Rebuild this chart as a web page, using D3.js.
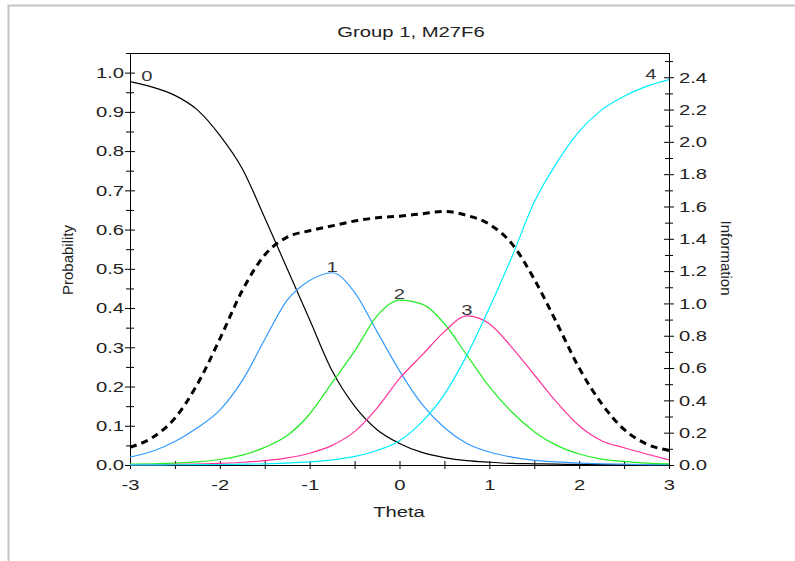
<!DOCTYPE html>
<html><head><meta charset="utf-8">
<script src="https://cdn.jsdelivr.net/npm/d3@7"></script>
<style>
html,body{margin:0;padding:0;background:#fff;}
svg{display:block;font-family:"Liberation Sans",Arial,sans-serif;}
</style></head><body>
<svg id="chart" width="795" height="561"></svg>
<script>
// ---- data ----
const theta = [-3,-2.75,-2.5,-2.25,-2,-1.75,-1.5,-1.25,-1,-0.75,-0.5,-0.25,0,0.25,0.5,0.75,1,1.25,1.5,1.75,2,2.25,2.5,2.75,3];
const cat0 = [0.977,0.963,0.942,0.905,0.84,0.755,0.63,0.5,0.37,0.24,0.15,0.09,0.055,0.032,0.019,0.011,0.007,0.004,0.003,0.002,0.0015,0.001,0.0006,0.0004,0.0003];
const cat1 = [0.02,0.035,0.06,0.095,0.14,0.215,0.32,0.42,0.47,0.49,0.44,0.34,0.24,0.155,0.095,0.055,0.033,0.02,0.012,0.008,0.005,0.003,0.002,0.0012,0.0008];
const cat2 = [0.002,0.003,0.005,0.008,0.014,0.025,0.045,0.075,0.13,0.21,0.29,0.38,0.42,0.41,0.36,0.28,0.2,0.135,0.085,0.05,0.028,0.015,0.009,0.005,0.003];
const cat3 = [0.0005,0.001,0.0015,0.0025,0.004,0.007,0.011,0.018,0.03,0.05,0.085,0.145,0.22,0.28,0.34,0.38,0.36,0.3,0.23,0.16,0.1,0.062,0.044,0.028,0.013];
const cat4 = [0.0003,0.0004,0.0006,0.0009,0.0013,0.002,0.003,0.005,0.008,0.013,0.022,0.037,0.062,0.11,0.18,0.28,0.4,0.53,0.67,0.77,0.85,0.905,0.94,0.965,0.982];
const information = [0.11,0.17,0.29,0.5,0.78,1.08,1.3,1.41,1.45,1.48,1.51,1.53,1.54,1.555,1.57,1.545,1.49,1.37,1.15,0.88,0.6,0.38,0.22,0.13,0.09];
const categoryLabels = ["0","1","2","3","4"];
const categoryColors = ["#000000","#3399ff","#22ee22","#ff3399","#00eeff"];
const xTicks = [-3,-2,-1,0,1,2,3];
const xMinor = [-2.5,-1.5,-0.5,0.5,1.5,2.5];
const probTicks = [0,0.1,0.2,0.3,0.4,0.5,0.6,0.7,0.8,0.9,1.0];
const probMinor = [0.05,0.15,0.25,0.35,0.45,0.55,0.65,0.75,0.85,0.95,1.05];
const infoTicks = [0,0.2,0.4,0.6,0.8,1.0,1.2,1.4,1.6,1.8,2.0,2.2,2.4];
const infoMinor = [0.1,0.3,0.5,0.7,0.9,1.1,1.3,1.5,1.7,1.9,2.1,2.3,2.5];
const titleText = "Group 1, M27F6";

// ---- layout ----
const m = {left:130,right:669,top:53,bottom:465};
const SX = 1.35;
const FONT = '"Liberation Sans", Arial, sans-serif';
const svg = d3.select("#chart");

const x = d3.scaleLinear().domain([-3,3]).range([m.left,m.right]);
const yL = d3.scaleLinear().domain([0,1.05]).range([m.bottom,m.top]);
const yR = d3.scaleLinear().domain([0,2.55]).range([m.bottom,m.top]);

// outer window border
svg.append("path").attr("d","M8.5,561 V5.5 H795")
  .attr("fill","none").attr("stroke","#c4c4c4").attr("stroke-width",2);

function styleTicks(g){
  g.attr("font-family",FONT).attr("font-size",15);
  g.select(".domain").remove();
  g.selectAll(".tick line").attr("stroke","#000");
}

// left axis
const gL = svg.append("g").attr("transform",`translate(${m.left},0)`)
  .call(d3.axisLeft(yL).tickValues(probTicks).tickSize(5).tickSizeOuter(0).tickFormat(d3.format(".1f")));
styleTicks(gL);
gL.selectAll(".tick line").attr("x1",5);
gL.selectAll(".tick text").attr("x",-6/SX).attr("transform",`scale(${SX},1)`).attr("fill","#222");
const gLm = svg.append("g").attr("transform",`translate(${m.left},0)`)
  .call(d3.axisLeft(yL).tickValues(probMinor).tickSize(4).tickSizeOuter(0).tickFormat(""));
styleTicks(gLm);
gLm.selectAll(".tick line").attr("x1",4);

// right axis
const gR = svg.append("g").attr("transform",`translate(${m.right},0)`)
  .call(d3.axisRight(yR).tickValues(infoTicks).tickSize(5).tickSizeOuter(0).tickFormat(d3.format(".1f")));
styleTicks(gR);
gR.selectAll(".tick line").attr("x1",-5);
gR.selectAll(".tick text").attr("x",10/SX).attr("transform",`scale(${SX},1)`).attr("fill","#222");
const gRm = svg.append("g").attr("transform",`translate(${m.right},0)`)
  .call(d3.axisRight(yR).tickValues(infoMinor).tickSize(4).tickSizeOuter(0).tickFormat(""));
styleTicks(gRm);
gRm.selectAll(".tick line").attr("x1",-4);

// bottom axis
const gB = svg.append("g").attr("transform",`translate(0,${m.bottom})`)
  .call(d3.axisBottom(x).tickValues(xTicks).tickSize(4).tickSizeOuter(0).tickFormat(d => String(d)));
styleTicks(gB);
gB.selectAll(".tick line").attr("y1",-4);
gB.selectAll(".tick text").attr("y",14).attr("dy","0.71em").attr("transform",`scale(${SX},1)`).attr("fill","#222");
const gBm = svg.append("g").attr("transform",`translate(0,${m.bottom})`)
  .call(d3.axisBottom(x).tickValues(xMinor).tickSize(4).tickSizeOuter(0).tickFormat(""));
styleTicks(gBm);
gBm.selectAll(".tick line").attr("y1",-4);

// frame / axis lines
const frame = svg.append("g").attr("stroke","#000").attr("stroke-width",1).attr("fill","none");
frame.append("path").attr("d",`M${m.left},${m.top+0.5} H${m.right}`);
frame.append("path").attr("d",`M${m.left+0.5},${m.top} V${m.bottom+3}`);
frame.append("path").attr("d",`M${m.right+0.5},${m.top} V${m.bottom+4}`);
frame.append("path").attr("d",`M${m.left},${m.bottom+0.5} H${m.right}`);

// category curves
const series = [cat0,cat1,cat2,cat3,cat4];
const lineP = d3.line().x((d,i)=>x(theta[i])).y(d=>yL(d)).curve(d3.curveMonotoneX);
series.forEach((s,k)=>{
  svg.append("path").datum(s).attr("d",lineP)
    .attr("fill","none").attr("stroke",categoryColors[k]).attr("stroke-width",1.2);
});

// information curve
const lineI = d3.line().x((d,i)=>x(theta[i])).y(d=>yR(d)).curve(d3.curveMonotoneX);
svg.append("path").datum(information).attr("d",lineI)
  .attr("fill","none").attr("stroke","#000").attr("stroke-width",3).attr("stroke-dasharray","7,5");

// category labels at each curve's maximum
series.forEach((s,k)=>{
  const i = d3.maxIndex(s);
  let lx = x(theta[i]);
  if (k===0) lx += 17;
  if (k===series.length-1) lx -= 18;
  svg.append("text")
    .attr("transform",`translate(${lx},${yL(s[i])-1}) scale(${SX},1)`)
    .attr("text-anchor","middle").attr("font-family",FONT).attr("font-size",15)
    .attr("fill","#3a3a3a").text(categoryLabels[k]);
});

// texts
function stext(tx,ty,str,rot,sx){
  return svg.append("text")
    .attr("transform",`translate(${tx},${ty}) scale(${sx},1)${rot?` rotate(${rot})`:''}`)
    .attr("text-anchor","middle").attr("font-family",FONT).attr("font-size",15)
    .attr("fill","#222").text(str);
}
stext(411,37,titleText,0,SX);
stext(399,517,"Theta",0,SX);
stext(73,260,"Probability",-90,1);
stext(721,258,"Information",90,1);
</script>
</body></html>
